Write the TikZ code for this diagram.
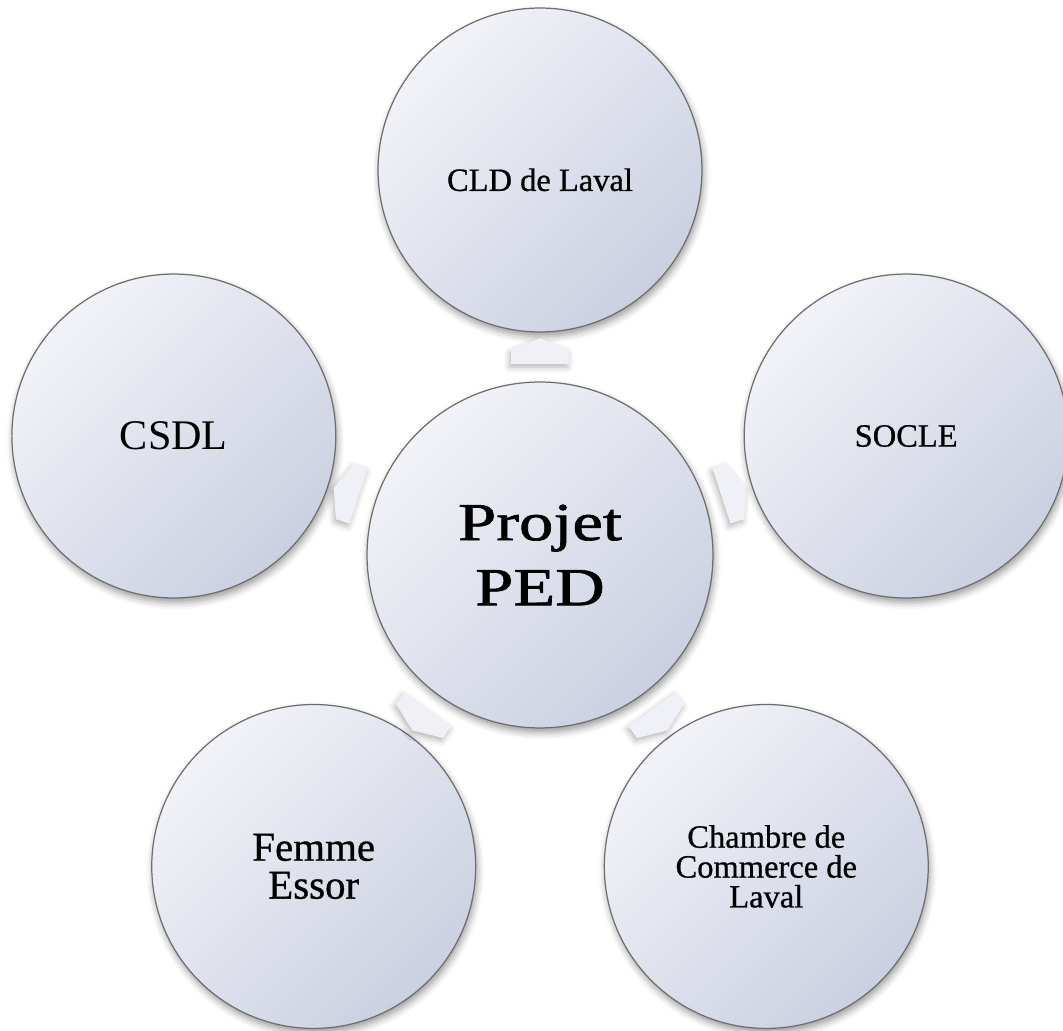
\documentclass[tikz,border=0pt]{standalone}
\usepackage{fontspec}
\setmainfont{Liberation Serif}
\newfontfamily\widefont[FakeStretch=1.28,FakeBold=1.2]{Liberation Serif}
\newfontfamily\heavyfont[FakeBold=0.7]{Liberation Serif}
\usetikzlibrary{shapes.arrows,shadows.blur,calc}
\definecolor{circlight}{RGB}{242,243,248}
\definecolor{circdark}{RGB}{203,208,225}
\definecolor{circline}{RGB}{110,110,110}
\definecolor{arrfill}{RGB}{240,241,246}
\begin{document}
\begin{tikzpicture}[x=0.02cm,y=0.02cm,
  bubble/.style={circle, draw=circline, line width=0.7pt,
    top color=circlight, bottom color=circdark, shading angle=45,
    minimum size=6.48cm, inner sep=0pt, align=center,
    blur shadow={shadow xshift=0.03cm, shadow yshift=-0.09cm,
      shadow opacity=40, shadow blur radius=0.14cm}},
  hub/.style={bubble, minimum size=6.92cm},
  flowarrow/.style={single arrow, single arrow head extend=0pt,
    single arrow tip angle=136, minimum height=0.52cm, minimum width=1.16cm,
    inner sep=0pt, draw=none, fill=arrfill,
    sloped, allow upside down,
    blur shadow={shadow xshift=-0.03cm, shadow yshift=-0.06cm,
      shadow opacity=30, shadow blur radius=0.12cm}},
  midtext/.style={font=\heavyfont\fontsize{18.5}{21}\selectfont},
]
\useasboundingbox (0,0) rectangle (1063,1031);

\node[hub, font=\widefont\fontsize{30.5}{37}\selectfont] (c) at (540,476) {Projet\\PED};

\node[bubble, midtext, text height=24pt] (top) at ($(c)+(90:385)$) {CLD de Laval};
\node[bubble, midtext] (right) at ($(c)+(18:385)$) {SOCLE};
\node[bubble, font=\heavyfont\fontsize{18.5}{17}\selectfont] (br) at ($(c)+(-54:385)$) {Chambre de\\Commerce de\\Laval};
\node[bubble, font=\heavyfont\fontsize{23.3}{21.6}\selectfont] (bl) at ($(c)+(-126:385)$) {Femme\\Essor};
\node[bubble, font=\fontsize{24}{28}\selectfont] (left) at ($(c)+(162:385)$) {CSDL};

\path (c) -- (top) node[flowarrow, pos=0.5] {};
\path (c) -- (right) node[flowarrow, pos=0.5] {};
\path (c) -- (br) node[flowarrow, pos=0.5] {};
\path (c) -- (bl) node[flowarrow, pos=0.5] {};
\path (c) -- (left) node[flowarrow, pos=0.5] {};
\end{tikzpicture}
\end{document}
